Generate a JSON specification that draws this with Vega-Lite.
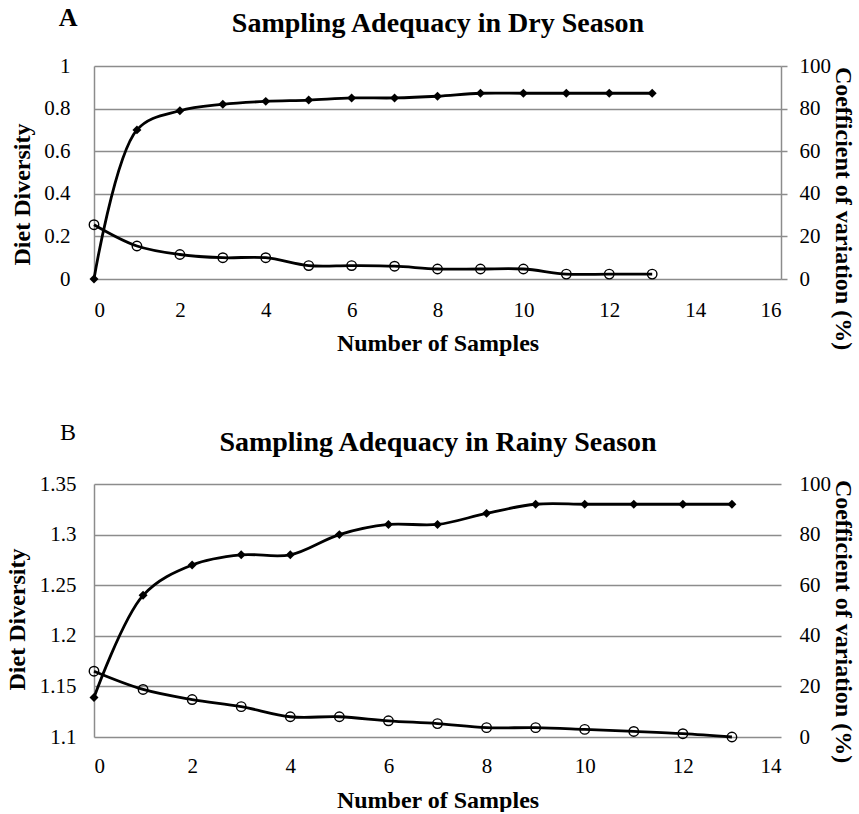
{
  "$schema": "https://vega.github.io/schema/vega-lite/v6.json",
  "padding": {"left": 5, "top": 5, "right": 5, "bottom": 0},
  "background": "white",
  "datasets": {
    "dry": [
      {"n": 0, "diversity": 0.0, "cv": 25.5},
      {"n": 1, "diversity": 0.70, "cv": 15.5},
      {"n": 2, "diversity": 0.79, "cv": 11.5},
      {"n": 3, "diversity": 0.82, "cv": 10.0},
      {"n": 4, "diversity": 0.834, "cv": 10.0},
      {"n": 5, "diversity": 0.84, "cv": 6.3},
      {"n": 6, "diversity": 0.85, "cv": 6.3},
      {"n": 7, "diversity": 0.85, "cv": 6.0},
      {"n": 8, "diversity": 0.858, "cv": 4.7},
      {"n": 9, "diversity": 0.872, "cv": 4.7},
      {"n": 10, "diversity": 0.872, "cv": 4.7},
      {"n": 11, "diversity": 0.872, "cv": 2.3},
      {"n": 12, "diversity": 0.872, "cv": 2.3},
      {"n": 13, "diversity": 0.872, "cv": 2.3}
    ],
    "rainy": [
      {"n": 0, "diversity": 1.139, "cv": 26.0},
      {"n": 1, "diversity": 1.24, "cv": 18.8},
      {"n": 2, "diversity": 1.27, "cv": 14.8},
      {"n": 3, "diversity": 1.28, "cv": 12.0},
      {"n": 4, "diversity": 1.28, "cv": 8.0},
      {"n": 5, "diversity": 1.30, "cv": 8.0},
      {"n": 6, "diversity": 1.31, "cv": 6.4},
      {"n": 7, "diversity": 1.31, "cv": 5.3},
      {"n": 8, "diversity": 1.321, "cv": 3.7},
      {"n": 9, "diversity": 1.33, "cv": 3.7},
      {"n": 10, "diversity": 1.33, "cv": 3.0},
      {"n": 11, "diversity": 1.33, "cv": 2.2},
      {"n": 12, "diversity": 1.33, "cv": 1.3},
      {"n": 13, "diversity": 1.33, "cv": 0.0}
    ],
    "labelA": [{"label": "A"}],
    "labelB": [{"label": "B"}]
  },
  "spacing": 66,
  "align": "none",
  "vconcat": [
    {
      "width": 687,
      "height": 213,
      "layer": [
        {
          "layer": [
            {
              "data": {"name": "dry"},
              "mark": {"type": "line", "interpolate": "catmull-rom", "color": "black", "strokeWidth": 2.8,
                "point": {"shape": "diamond", "filled": true, "color": "black", "size": 80}},
              "encoding": {
                "x": {"field": "n", "type": "quantitative", "scale": {"domain": [0, 16], "nice": false},
                  "axis": {"orient": "bottom", "values": [0, 2, 4, 6, 8, 10, 12, 14, 16], "title": "Number of Samples", "grid": false, "domain": false, "ticks": false, "labelPadding": 20, "titlePadding": 11}},
                "y": {"field": "diversity", "type": "quantitative", "scale": {"domain": [0, 1], "nice": false},
                  "axis": {"orient": "left", "values": [0, 0.2, 0.4, 0.6, 0.8, 1], "format": ".1~f", "title": "Diet Diversity", "titleY": 128, "grid": true, "domain": true, "ticks": false, "labelPadding": 24, "titlePadding": 9}}
              }
            },
            {
              "data": {"name": "labelA"},
              "mark": {"type": "text", "font": "Liberation Serif", "fontSize": 26, "fontWeight": "bold", "color": "black", "align": "center", "baseline": "middle"},
              "encoding": {
                "x": {"datum": -0.605, "axis": {"orient": "top", "title": "Sampling Adequacy in Dry Season", "titleFontSize": 28, "labels": false, "ticks": false, "domain": false, "grid": false, "titlePadding": 29}},
                "y": {"datum": 1.225},
                "text": {"field": "label"}
              }
            }
          ],
          "resolve": {"axis": {"x": "independent"}}
        },
        {
          "data": {"name": "dry"},
          "mark": {"type": "line", "interpolate": "catmull-rom", "color": "black", "strokeWidth": 2.8,
            "point": {"shape": "circle", "filled": false, "color": "black", "size": 90, "strokeWidth": 1.4}},
          "encoding": {
            "x": {"field": "n", "type": "quantitative", "axis": null},
            "y": {"field": "cv", "type": "quantitative", "scale": {"domain": [0, 100], "nice": false},
              "axis": {"orient": "right", "values": [0, 20, 40, 60, 80, 100], "title": "Coefficient of variation (%)", "titleY": 142, "grid": false, "domain": true, "ticks": true, "tickSize": 6, "labelPadding": 12, "titlePadding": 0}}
          }
        }
      ],
      "resolve": {"scale": {"y": "independent"}}
    },
    {
      "width": 687,
      "height": 253,
      "layer": [
        {
          "layer": [
            {
              "data": {"name": "rainy"},
              "mark": {"type": "line", "interpolate": "catmull-rom", "color": "black", "strokeWidth": 2.8,
                "point": {"shape": "diamond", "filled": true, "color": "black", "size": 80}},
              "encoding": {
                "x": {"field": "n", "type": "quantitative", "scale": {"domain": [0, 14], "nice": false},
                  "axis": {"orient": "bottom", "values": [0, 2, 4, 6, 8, 10, 12, 14], "title": "Number of Samples", "grid": false, "domain": false, "ticks": false, "labelPadding": 18, "titlePadding": 12}},
                "y": {"field": "diversity", "type": "quantitative", "scale": {"domain": [1.1, 1.35], "nice": false, "zero": false},
                  "axis": {"orient": "left", "values": [1.1, 1.15, 1.2, 1.25, 1.3, 1.35], "format": ".2~f", "title": "Diet Diversity", "titleY": 135, "grid": true, "domain": true, "ticks": false, "labelPadding": 18, "titlePadding": 10}}
              }
            },
            {
              "data": {"name": "labelB"},
              "mark": {"type": "text", "font": "Liberation Serif", "fontSize": 24, "fontWeight": "normal", "color": "black", "align": "center", "baseline": "middle"},
              "encoding": {
                "x": {"datum": -0.53, "axis": {"orient": "top", "title": "Sampling Adequacy in Rainy Season", "titleFontSize": 28, "labels": false, "ticks": false, "domain": false, "grid": false, "titlePadding": 28}},
                "y": {"datum": 1.4},
                "text": {"field": "label"}
              }
            }
          ],
          "resolve": {"axis": {"x": "independent"}}
        },
        {
          "data": {"name": "rainy"},
          "mark": {"type": "line", "interpolate": "catmull-rom", "color": "black", "strokeWidth": 2.8,
            "point": {"shape": "circle", "filled": false, "color": "black", "size": 90, "strokeWidth": 1.4}},
          "encoding": {
            "x": {"field": "n", "type": "quantitative", "axis": null},
            "y": {"field": "cv", "type": "quantitative", "scale": {"domain": [0, 100], "nice": false},
              "axis": {"orient": "right", "values": [0, 20, 40, 60, 80, 100], "title": "Coefficient of variation (%)", "titleY": 137, "grid": false, "domain": false, "ticks": false, "labelPadding": 18, "titlePadding": 0}}
          }
        }
      ],
      "resolve": {"scale": {"y": "independent"}}
    }
  ],
  "config": {
    "view": {"stroke": null},
    "axis": {
      "labelFont": "Liberation Serif",
      "labelFontSize": 21,
      "labelColor": "black",
      "titleFont": "Liberation Serif",
      "titleFontSize": 24,
      "titleFontWeight": "bold",
      "titleColor": "black",
      "gridColor": "#8c8c8c",
      "gridWidth": 1.5,
      "gridOpacity": 1,
      "domainColor": "#8c8c8c",
      "domainWidth": 1.5,
      "tickColor": "#8c8c8c",
      "tickWidth": 1.5
    }
  }
}
